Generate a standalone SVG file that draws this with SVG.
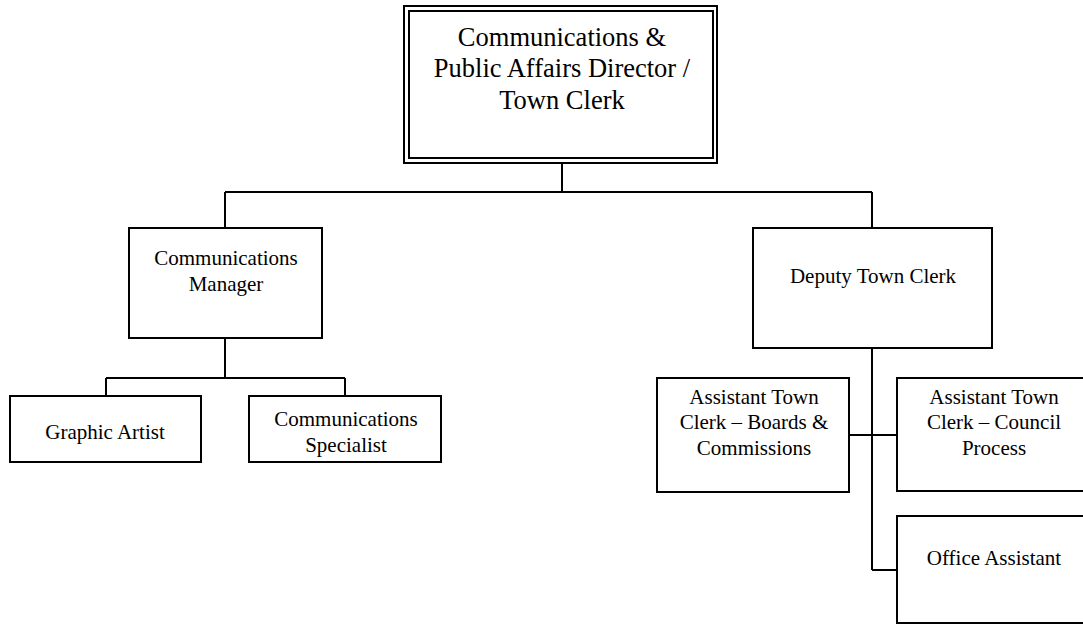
<svg xmlns="http://www.w3.org/2000/svg" width="1083" height="625" viewBox="0 0 1083 625">
<style>
.box{fill:#fff;stroke:#000;stroke-width:2}
.lbl{font-family:"Liberation Serif","Times New Roman",serif;font-size:21px;fill:#000;text-anchor:middle}
.big{font-size:26.5px}
.con{fill:none;stroke:#000;stroke-width:2}
</style>
<rect width="1083" height="625" fill="#fff"/>
<g id="connectors">
<path class="con" d="M562,162 V192 M225,192 H872 M225,192 V228 M872,192 V228"/>
<path class="con" d="M225,338 V378 M106,378 H345 M106,378 V396 M345,378 V396"/>
<path class="con" d="M872,348 V570 M849,435 H897 M872,570 H897"/>
</g>
<g id="director">
<rect class="box" x="404" y="6" width="313" height="157" stroke-width="1.6"/>
<rect class="box" x="409" y="11" width="304" height="147" stroke-width="1.6"/>
<text class="lbl big" x="562" y="46">Communications &amp;</text>
<text class="lbl big" x="562" y="77">Public Affairs Director /</text>
<text class="lbl big" x="562" y="109">Town Clerk</text>
</g>
<g id="comm-manager">
<rect class="box" x="129" y="228" width="193" height="110"/>
<text class="lbl" x="226" y="265">Communications</text>
<text class="lbl" x="226" y="291">Manager</text>
</g>
<g id="graphic-artist">
<rect class="box" x="10" y="396" width="191" height="66"/>
<text class="lbl" x="105" y="439">Graphic Artist</text>
</g>
<g id="comm-specialist">
<rect class="box" x="249" y="396" width="192" height="66"/>
<text class="lbl" x="346" y="426">Communications</text>
<text class="lbl" x="346" y="452">Specialist</text>
</g>
<g id="deputy-clerk">
<rect class="box" x="753" y="228" width="239" height="120"/>
<text class="lbl" x="873" y="283">Deputy Town Clerk</text>
</g>
<g id="asst-boards">
<rect class="box" x="657" y="378" width="192" height="114"/>
<text class="lbl" x="754" y="404">Assistant Town</text>
<text class="lbl" x="754" y="429">Clerk – Boards &amp;</text>
<text class="lbl" x="754" y="455">Commissions</text>
</g>
<g id="asst-council">
<rect class="box" x="897" y="378" width="194" height="113"/>
<text class="lbl" x="994" y="404">Assistant Town</text>
<text class="lbl" x="994" y="429">Clerk – Council</text>
<text class="lbl" x="994" y="455">Process</text>
</g>
<g id="office-assistant">
<rect class="box" x="897" y="516" width="194" height="107"/>
<text class="lbl" x="994" y="565">Office Assistant</text>
</g>
</svg>
